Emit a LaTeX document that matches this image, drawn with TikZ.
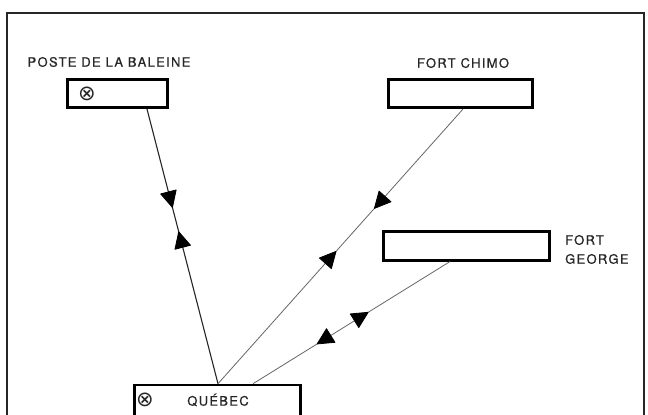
\documentclass[tikz,border=0pt]{standalone}
\usepackage{fontspec}
\setmainfont{TeX Gyre Heros}[LetterSpace=10, FakeBold=0.6]
\newfontfamily\symfont{DejaVu Sans}
\usetikzlibrary{decorations.markings,calc}
\begin{document}
\begin{tikzpicture}[x=1pt,y=-1pt,
  font=\fontsize{13}{19}\selectfont,
  station/.style={draw, line width=2.6pt, minimum height=28.5pt, inner sep=0pt},
  lbl/.style={text=black!85, inner sep=0pt},
  sym/.style={text=black!85, inner sep=0pt, font=\symfont\fontsize{21}{21}\selectfont},
  fwdtip/.style={fill=black, draw=black, line width=0.8pt, line join=round},
  pair/.style n args={2}{postaction={decorate}, decoration={markings,
      mark=at position #1 with {\path[fwdtip] (8pt,0pt) -- (-8pt,8pt) -- (-8pt,-8pt) -- cycle;},
      mark=at position #2 with {\path[fwdtip] (-8pt,0pt) -- (8pt,8pt) -- (8pt,-8pt) -- cycle;}}},
  rpair/.style n args={2}{postaction={decorate}, decoration={markings,
      mark=at position #1 with {\path[fwdtip] (-8pt,0pt) -- (8pt,8pt) -- (8pt,-8pt) -- cycle;},
      mark=at position #2 with {\path[fwdtip] (8pt,0pt) -- (-8pt,8pt) -- (-8pt,-8pt) -- cycle;}}},
  darkline/.style={line width=1.1pt, black!85},
  thinline/.style={line width=0.8pt, black!60}
]
\useasboundingbox (0,0) rectangle (648,415);
\fill[white] (0,0) rectangle (648,415);
% frame
\draw[line width=2.5pt, black!85] (7,440) -- (7,13) -- (644,13) -- (644,440);

% boxes
\node[station, minimum width=100pt] (poste) at (117.5,93.5) {};
\node[station, minimum width=144pt] (chimo) at (460.5,93.5) {};
\node[station, minimum width=166pt] (george) at (466.5,246) {};
\node[station, minimum width=166pt, minimum height=34pt] (quebec) at (217.5,402) {};

% labels
\node[lbl] (lposte) at (109,62) {POSTE DE LA BALEINE};
\node[lbl] (lchimo) at (463,63) {FORT CHIMO};
\node[lbl, align=left, anchor=west] (lgeorge) at (565,249.5) {FORT\\GEORGE};
\node[lbl] (lquebec) at (218,400) {QUÉBEC};
\node[sym] (xposte) at (87,94) {⊗};
\node[sym] (xquebec) at (145,400) {⊗};

% connectors
\draw[darkline, pair={0.33}{0.475}] ([xshift=29.5pt]poste.south) -- ([xshift=0.5pt]quebec.north);
\draw[thinline, pair={0.34}{0.54}] ([xshift=2.5pt]chimo.south) -- ([xshift=0.5pt]quebec.north);
\draw[thinline, rpair={0.45}{0.64}] ([xshift=-16.5pt]george.south) -- ([xshift=35.5pt]quebec.north);
\end{tikzpicture}
\end{document}
